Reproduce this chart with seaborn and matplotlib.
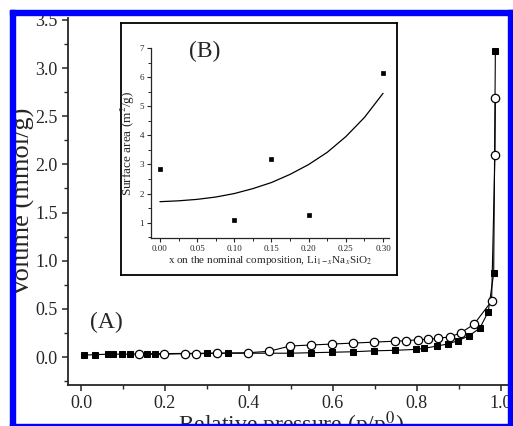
import numpy as np
import seaborn as sns
import matplotlib.pyplot as plt
from matplotlib.patches import Rectangle
from matplotlib.ticker import MultipleLocator

# isotherm, filled squares (adsorption)
ads_p = [0.008, 0.033, 0.065, 0.077, 0.098, 0.117, 0.156, 0.176, 0.299, 0.351,
         0.498, 0.547, 0.597, 0.647, 0.698, 0.748, 0.799, 0.817, 0.848, 0.873,
         0.898, 0.924, 0.950, 0.970, 0.983, 0.987]
ads_v = [0.02, 0.025, 0.03, 0.03, 0.03, 0.03, 0.035, 0.035, 0.04, 0.04,
         0.04, 0.045, 0.05, 0.055, 0.065, 0.07, 0.08, 0.09, 0.115, 0.135,
         0.17, 0.22, 0.30, 0.47, 0.87, 3.18]

# isotherm, open circles (desorption)
des_p = [0.987, 0.986, 0.978, 0.936, 0.904, 0.879, 0.851, 0.827, 0.802, 0.775,
         0.748, 0.698, 0.647, 0.597, 0.547, 0.498, 0.448, 0.398, 0.325, 0.275,
         0.248, 0.198, 0.138]
des_v = [2.69, 2.10, 0.58, 0.34, 0.25, 0.21, 0.195, 0.185, 0.18, 0.17,
         0.165, 0.155, 0.145, 0.135, 0.125, 0.115, 0.06, 0.045, 0.04, 0.035,
         0.035, 0.03, 0.03]

# inset (B)
comp_x = [0.0, 0.1, 0.15, 0.2, 0.3]
area = [2.85, 1.08, 3.2, 1.25, 6.15]
fit_x = [0.0, 0.025, 0.05, 0.075, 0.1, 0.125, 0.15, 0.175, 0.2, 0.225, 0.25, 0.275, 0.3]
fit_y = [1.72, 1.75, 1.80, 1.88, 2.0, 2.17, 2.38, 2.66, 3.0, 3.42, 3.96, 4.62, 5.45]

sns.set_style("ticks")
plt.rcParams['font.family'] = ['Liberation Serif', 'DejaVu Serif']
plt.rcParams['mathtext.fontset'] = 'stix'

W, H = 513, 426
fig = plt.figure(figsize=(W / 100, H / 100), dpi=100)

# main axes (A)
ax = fig.add_axes([68 / W, 41 / H, 445 / W, 367 / H])
sns.lineplot(x=ads_p, y=ads_v, sort=False, estimator=None, ax=ax, color='black',
             lw=0.8, marker='s', markersize=5, markerfacecolor='black',
             markeredgecolor='black', zorder=3)
sns.lineplot(x=des_p, y=des_v, sort=False, estimator=None, ax=ax, color='black',
             lw=0.8, marker='o', markersize=6, markerfacecolor='white',
             markeredgecolor='black', markeredgewidth=0.9, zorder=4)
ax.set_xlim(-0.031, 1.029)
ax.set_ylim(-0.29, 3.52)
ax.xaxis.set_major_locator(MultipleLocator(0.2))
ax.xaxis.set_minor_locator(MultipleLocator(0.1))
ax.yaxis.set_major_locator(MultipleLocator(0.5))
ax.yaxis.set_minor_locator(MultipleLocator(0.25))
ax.xaxis.set_major_formatter(plt.FormatStrFormatter('%.1f'))
ax.yaxis.set_major_formatter(plt.FormatStrFormatter('%.1f'))
ax.tick_params(which='major', direction='out', length=4, width=1.1, labelsize=13)
ax.tick_params(which='minor', direction='out', length=3, width=1.0)
ax.spines['top'].set_visible(False)
ax.spines['right'].set_visible(False)
for s in ['left', 'bottom']:
    ax.spines[s].set_linewidth(1.3)
ax.set_xlabel('Relative pressure (p/p$^{0}$)', fontsize=17, labelpad=-2)
ax.set_ylabel('Volume (mmol/g)', fontsize=19, labelpad=0)
ax.text(0.06, 0.36, '(A)', fontsize=17, ha='center', va='center')

# inset frame
frame = fig.add_axes([121 / W, (H - 275) / H, 276 / W, 252 / H])
frame.set_xticks([])
frame.set_yticks([])
frame.set_facecolor('white')
for s in frame.spines.values():
    s.set_linewidth(1.3)
    s.set_color('black')

# inset axes (B)
ins = fig.add_axes([151 / W, (H - 238) / H, 238 / W, 190 / H])
ins.patch.set_alpha(0)
sns.lineplot(x=fit_x, y=fit_y, ax=ins, color='black', lw=0.9)
sns.scatterplot(x=comp_x, y=area, ax=ins, color='black', marker='s', s=12,
                edgecolor='black', linewidth=0.5)
ins.set_xlim(-0.012, 0.308)
ins.set_ylim(0.47, 7.01)
ins.xaxis.set_major_locator(MultipleLocator(0.05))
ins.xaxis.set_minor_locator(MultipleLocator(0.025))
ins.yaxis.set_major_locator(MultipleLocator(1))
ins.yaxis.set_minor_locator(MultipleLocator(0.5))
ins.xaxis.set_major_formatter(plt.FormatStrFormatter('%.2f'))
ins.tick_params(which='major', direction='out', length=3, width=0.8, labelsize=6.5, pad=2)
ins.tick_params(which='minor', direction='out', length=2, width=0.7)
ins.spines['top'].set_visible(False)
ins.spines['right'].set_visible(False)
for s in ['left', 'bottom']:
    ins.spines[s].set_linewidth(0.9)
ins.set_xlabel('x on the nominal composition, Li$_{1-x}$Na$_x$SiO$_2$', fontsize=8, labelpad=1)
ins.set_ylabel('Surface area (m$^2$/g)', fontsize=9.5, labelpad=2)
ins.text(0.06, 6.9, '(B)', fontsize=17, ha='center', va='center')

# blue border of the cropped figure
blue = '#0000ff'
fig.add_artist(Rectangle((0, 0), 10 / W, 1, transform=fig.transFigure, color='white', zorder=20))
fig.add_artist(Rectangle((0, (H - 10) / H), 1, 10 / H, transform=fig.transFigure, color='white', zorder=20))
fig.add_artist(Rectangle((10 / W, 0), 5 / W, (H - 10) / H, transform=fig.transFigure, color=blue, zorder=21))
fig.add_artist(Rectangle((10 / W, (H - 15) / H), (W - 10) / W, 5 / H, transform=fig.transFigure, color=blue, zorder=21))
fig.add_artist(Rectangle((508 / W, 0), 5 / W, (H - 10) / H, transform=fig.transFigure, color=blue, zorder=21))
fig.add_artist(Rectangle((10 / W, 0), (W - 10) / W, 2 / H, transform=fig.transFigure, color=blue, zorder=21))

fig.savefig('out.png', dpi=100)
